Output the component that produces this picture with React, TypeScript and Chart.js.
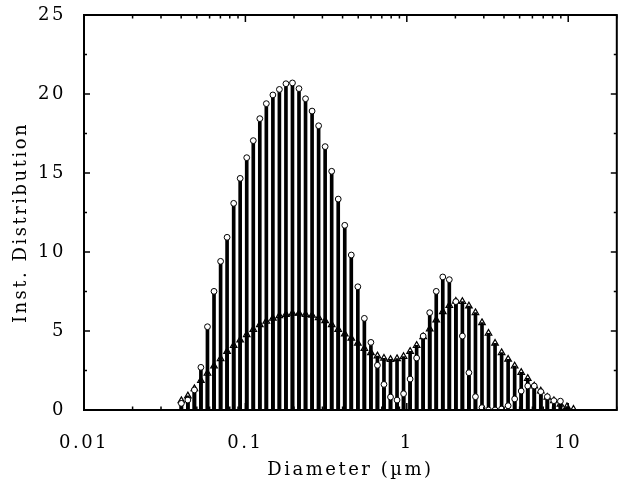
import React, { useEffect, useRef } from "react";
import { Chart, registerables } from "chart.js";

Chart.register(...registerables);

// Bin diameters (µm), log-spaced size classes
const DIAMETERS = [
  0.0401, 0.0440, 0.0483, 0.0530, 0.0582, 0.0639, 0.0702, 0.0770, 0.0846, 0.0928,
  0.1019, 0.1119, 0.1228, 0.1348, 0.1480, 0.1624, 0.1783, 0.1957, 0.2148, 0.2358,
  0.2589, 0.2842, 0.3119, 0.3424, 0.3759, 0.4126, 0.4529, 0.4972, 0.5458, 0.5991,
  0.6577, 0.7219, 0.7925, 0.8699, 0.9549, 1.0482, 1.1506, 1.2630, 1.3864, 1.5219,
  1.6706, 1.8339, 2.0131, 2.2098, 2.4257, 2.6627, 2.9229, 3.2085, 3.5220, 3.8661,
  4.2439, 4.6586, 5.1138, 5.6135, 6.1620, 6.7641, 7.4250, 8.1505, 8.9469, 9.8211,
  10.781,
];

// Series drawn with open circles
const CIRCLE_VALUES: (number | null)[] = [
  0.42, 0.63, 1.27, 2.70, 5.27, 7.51, 9.41, 10.93, 13.08, 14.66,
  15.97, 17.05, 18.44, 19.39, 19.94, 20.29, 20.65, 20.70, 20.34, 19.70,
  18.92, 17.99, 16.67, 15.11, 13.35, 11.69, 9.81, 7.80, 5.80, 4.28,
  2.83, 1.62, 0.82, 0.63, 1.03, 1.96, 3.29, 4.68, 6.16, 7.51,
  8.42, 8.25, 6.86, 4.68, 2.36, 0.84, 0.15, 0.0, 0.0, 0.06,
  0.27, 0.70, 1.20, 1.52, 1.52, 1.16, 0.84, 0.59, 0.56, null,
  null,
];

// Series drawn with open triangles
const TRIANGLE_VALUES: (number | null)[] = [
  0.59, 0.89, 1.35, 1.86, 2.32, 2.78, 3.25, 3.71, 4.09, 4.43,
  4.77, 5.10, 5.40, 5.61, 5.80, 5.97, 6.05, 6.12, 6.12, 6.05,
  5.99, 5.84, 5.65, 5.40, 5.10, 4.81, 4.54, 4.22, 3.90, 3.63,
  3.42, 3.27, 3.20, 3.25, 3.38, 3.71, 4.09, 4.64, 5.13, 5.70,
  6.22, 6.62, 6.88, 6.86, 6.58, 6.16, 5.53, 4.85, 4.22, 3.63,
  3.21, 2.78, 2.38, 2.00, 1.52, 1.20, 0.80, 0.59, 0.36, 0.21,
  0.04,
];

const X_TICK_LABELS = [0.01, 0.1, 1, 10];
const X_MINOR_MULTIPLIERS = [2, 3, 4, 5, 6, 7, 8, 9];
const Y_MAJOR_TICKS = [0, 5, 10, 15, 20, 25];
const Y_MINOR_TICKS = [2.5, 7.5, 12.5, 17.5, 22.5];

const X_MIN = 0.01;
const X_MAX = 20;
const Y_MIN = 0;
const Y_MAX = 25;

const X_TITLE = "Diameter (µm)";
const Y_TITLE = "Inst. Distribution";

const FONT_FAMILY = "'DejaVu Serif', serif";

export default function App() {
  const canvasRef = useRef<HTMLCanvasElement>(null);

  useEffect(() => {
    const canvas = canvasRef.current;
    if (!canvas) return;

    const setSpacing = (chart: any) => {
      (chart.ctx as any).letterSpacing = "2.5px";
    };

    const framePlugin = {
      id: "frameTicks",
      beforeUpdate: setSpacing,
      beforeDraw: setSpacing,
      afterDraw(chart: any) {
        const { ctx, chartArea, scales } = chart;
        const { left, right, top, bottom } = chartArea;
        const xs = scales.x;
        const ys = scales.y;
        ctx.save();
        ctx.strokeStyle = "#000";
        ctx.lineWidth = 2;
        ctx.strokeRect(left, top, right - left, bottom - top);
        ctx.lineWidth = 1.5;
        ctx.beginPath();
        const yTick = (v: number, len: number) => {
          const py = ys.getPixelForValue(v);
          ctx.moveTo(left, py);
          ctx.lineTo(left + len, py);
          ctx.moveTo(right, py);
          ctx.lineTo(right - len, py);
        };
        Y_MAJOR_TICKS.forEach((v) => yTick(v, 6));
        Y_MINOR_TICKS.forEach((v) => yTick(v, 3));
        const xTick = (v: number, len: number) => {
          if (v < X_MIN || v > X_MAX) return;
          const px = xs.getPixelForValue(v);
          ctx.moveTo(px, top);
          ctx.lineTo(px, top + len);
          ctx.moveTo(px, bottom);
          ctx.lineTo(px, bottom - len);
        };
        X_TICK_LABELS.forEach((d) => {
          xTick(d, 7);
          X_MINOR_MULTIPLIERS.forEach((m) => xTick(d * m, 3.5));
        });
        ctx.stroke();

        // y-axis title (rotated)
        (ctx as any).letterSpacing = "2.5px";
        ctx.fillStyle = "#000";
        ctx.font = `18px ${FONT_FAMILY}`;
        ctx.textAlign = "center";
        ctx.textBaseline = "middle";
        ctx.translate(21, (top + bottom) / 2 + 10);
        ctx.rotate(-Math.PI / 2);
        ctx.fillText(Y_TITLE, 0, 0);
        ctx.restore();
      },
    };

    const circlePts = DIAMETERS.map((d, i) => ({ x: d, y: CIRCLE_VALUES[i] }));
    const trianglePts = DIAMETERS.map((d, i) => ({ x: d, y: TRIANGLE_VALUES[i] }));

    const chart = new Chart(canvas, {
      type: "bar",
      data: {
        datasets: [
          {
            type: "scatter",
            label: "circles",
            data: circlePts as any,
            pointStyle: "circle",
            pointRadius: 2.9,
            pointBackgroundColor: "#fff",
            pointBorderColor: "#000",
            pointBorderWidth: 1,
            showLine: false,
            order: 1,
          } as any,
          {
            type: "scatter",
            label: "triangles",
            data: trianglePts as any,
            pointStyle: "triangle",
            pointRadius: 3.8,
            pointBackgroundColor: "rgba(255,255,255,0)",
            pointBorderColor: "#000",
            pointBorderWidth: 1.2,
            showLine: false,
            order: 2,
          } as any,
          {
            type: "bar",
            label: "circle bars",
            data: circlePts as any,
            backgroundColor: "#000",
            borderWidth: 0,
            barThickness: 3,
            grouped: false,
            order: 3,
          } as any,
          {
            type: "bar",
            label: "triangle bars",
            data: trianglePts as any,
            backgroundColor: "#000",
            borderWidth: 0,
            barThickness: 3,
            grouped: false,
            order: 4,
          } as any,
        ],
      },
      options: {
        animation: false,
        responsive: false,
        maintainAspectRatio: false,
        layout: { padding: { top: 15, left: 0, right: 0, bottom: 0 } },
        plugins: {
          legend: { display: false },
          tooltip: { enabled: false },
        },
        scales: {
          x: {
            type: "logarithmic",
            min: X_MIN,
            max: X_MAX,
            offset: false,
            grid: { display: false, drawTicks: false },
            border: { display: false },
            afterBuildTicks: (s: any) => {
              s.ticks = X_TICK_LABELS.map((v) => ({ value: v }));
            },
            afterFit: (s: any) => {
              s.height = 77;
              s.paddingLeft = 0;
              s.paddingRight = 0;
            },
            ticks: {
              autoSkip: false,
              maxRotation: 0,
              color: "#000",
              padding: 23,
              font: { family: FONT_FAMILY, size: 18 },
              callback: (v: any) => String(v),
            },
            title: {
              display: true,
              text: X_TITLE,
              color: "#000",
              font: { family: FONT_FAMILY, size: 18 },
              padding: { top: 0, bottom: 6 },
            },
          } as any,
          y: {
            type: "linear",
            min: Y_MIN,
            max: Y_MAX,
            grid: { display: false, drawTicks: false },
            border: { display: false },
            afterFit: (s: any) => {
              s.width = 84;
              s.paddingTop = 0;
              s.paddingBottom = 0;
            },
            ticks: {
              stepSize: 5,
              color: "#000",
              padding: 18,
              font: { family: FONT_FAMILY, size: 18 },
            },
            title: { display: false },
          },
        },
      },
      plugins: [framePlugin],
    });

    return () => chart.destroy();
  }, []);

  return (
    <div
      style={{
        position: "fixed",
        left: 0,
        top: 0,
        width: 620,
        height: 487,
        overflow: "hidden",
        background: "#fff",
      }}
    >
      <canvas
        ref={canvasRef}
        width={622}
        height={487}
        style={{ display: "block", width: 622, height: 487 }}
      />
    </div>
  );
}
